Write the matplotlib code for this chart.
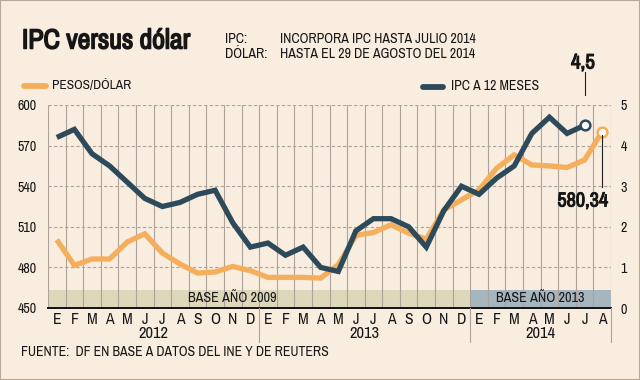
import matplotlib
matplotlib.use("Agg")
import matplotlib.pyplot as plt
import matplotlib.transforms as mtransforms
import matplotlib.patheffects as pe
from matplotlib.lines import Line2D
from matplotlib.patches import Rectangle
from matplotlib import font_manager

names = {f.name for f in font_manager.fontManager.ttflist}
FONT = "Archivo Narrow" if "Archivo Narrow" in names else "DejaVu Sans"
plt.rcParams['font.family'] = [FONT, 'DejaVu Sans']

# ---- data ----
months = ["E", "F", "M", "A", "M", "J", "J", "A", "S", "O", "N", "D"] * 2 + ["E", "F", "M", "A", "M", "J", "J", "A"]
years = ["2012", "2013", "2014"]
pesos_dolar = [500.4, 481.5, 486.2, 486.2, 498.7, 504.8, 490.6, 482.5, 475.8, 476.6, 480.7, 477.6,
               472.6, 472.6, 472.6, 472.1, 482.0, 503.6, 505.8, 511.5, 505.3, 500.9, 522.5, 529.9,
               537.3, 553.3, 563.1, 555.7, 555.0, 553.8, 559.4, 580.34]
ipc_12m = [4.2, 4.4, 3.8, 3.5, 3.1, 2.7, 2.5, 2.6, 2.8, 2.9, 2.1, 1.5,
           1.6, 1.3, 1.5, 1.0, 0.9, 1.9, 2.2, 2.2, 2.0, 1.5, 2.4, 3.0,
           2.8, 3.2, 3.5, 4.3, 4.7, 4.3, 4.5]
left_ticks = [450, 480, 510, 540, 570, 600]
right_ticks = [0, 1, 2, 3, 4, 5]
bands = [("BASE AÑO 2009", 0, 24, 10.45), ("BASE AÑO 2013", 24, 32, 28)]

BG = "#F8EDDE"
ORANGE = "#F5AE5B"
DARK = "#2D4A5A"
GRID = "#ADA39A"
TXT = "#161616"

W, H = 640, 380
fig = plt.figure(figsize=(W / 100, H / 100), dpi=100, facecolor=BG)
renderer = fig.canvas.get_renderer()

def fx(px):
    return px / W

def fy(py):
    return 1 - py / H

def fit(t, width_px):
    bb = t.get_window_extent(renderer)
    if bb.width > 0:
        t.set_fontsize(t.get_fontsize() * width_px / bb.width)
    return t

def size_for(s, width_px, weight="normal"):
    t = fig.text(0, 0, s, fontsize=10, fontweight=weight)
    bb = t.get_window_extent(renderer)
    t.remove()
    return 10 * width_px / bb.width

def bold(t, w=0.9):
    t.set_path_effects([pe.withStroke(linewidth=w, foreground=t.get_color())])
    return t

L, R, T, B = 48, 611, 105, 308
ax = fig.add_axes([fx(L), fy(B), (R - L) / W, (B - T) / H])
ax.set_facecolor("none")
ax.set_xlim(0, len(months))
ax.set_ylim(left_ticks[0], left_ticks[-1])
ax2 = ax.twinx()
ax2.set_ylim(right_ticks[0], right_ticks[-1])
ax2.set_xlim(0, len(months))

for a in (ax, ax2):
    for s in a.spines.values():
        s.set_visible(False)
ax.spines['bottom'].set_visible(True)
ax.spines['bottom'].set_color("#111111")
ax.spines['bottom'].set_linewidth(1.4)
ax.spines['bottom'].set_zorder(6)

# bands
band_colors = ["#DDD8BB", "#A5B6BF"]
band_top = 463.5
band_fs = size_for("BASE AÑO 2009", 88)
for (label, x0, x1, xc), c in zip(bands, band_colors):
    ax.add_patch(Rectangle((x0, left_ticks[0]), x1 - x0, band_top - left_ticks[0],
                           facecolor=c, edgecolor="none", zorder=0))
    ax.text(xc, (left_ticks[0] + band_top) / 2 + 0.3, label, ha="center", va="center",
            fontsize=band_fs, color=TXT, zorder=3)

# grid
for i in range(len(months) + 1):
    ax.plot([i, i], [left_ticks[0], left_ticks[-1]], color=GRID, lw=0.8, zorder=1)
for v in left_ticks[1:]:
    ax.plot([0, len(months)], [v, v], color=GRID, lw=0.8, ls=(0, (3, 2)), zorder=1)

xs = [i + 0.5 for i in range(len(months))]
ax.plot(xs, pesos_dolar, color=ORANGE, lw=3.8, solid_joinstyle="miter", solid_capstyle="butt", zorder=4)
ax.plot(xs[-1], pesos_dolar[-1], "o", ms=7, mfc="white", mec=ORANGE, mew=1.8, zorder=7)
ax2.plot(xs[:len(ipc_12m)], ipc_12m, color=DARK, lw=3.8, solid_joinstyle="miter", solid_capstyle="butt", zorder=4)
ax2.plot(xs[len(ipc_12m) - 1], ipc_12m[-1], "o", ms=7, mfc="white", mec=DARK, mew=1.8, zorder=7)

# ticks
tick_fs = size_for("600", 19)
yr_fs = size_for("2012", 30)
ax.set_xticks(xs)
ax.set_xticklabels(months, fontsize=yr_fs * 0.95, color=TXT)
ax.tick_params(axis="x", length=0, pad=3)
ax.set_yticks(left_ticks)
ax.set_yticklabels([str(v) for v in left_ticks], fontsize=tick_fs, color=TXT)
ax.tick_params(axis="y", length=0, pad=8)
ax2.set_yticks(right_ticks)
ax2.set_yticklabels([str(v) for v in right_ticks], fontsize=tick_fs, color=TXT)
ax2.tick_params(axis="y", length=0, pad=7)

bt = mtransforms.blended_transform_factory(ax.transData, fig.transFigure)
for k, yr in enumerate(years):
    x0 = 12 * k
    x1 = min(12 * (k + 1), len(months))
    fig.text((x0 + x1) / 2, fy(334), yr, transform=bt, ha="center", va="center", fontsize=yr_fs, color=TXT)
for xsep in (12, 24, len(months)):
    fig.add_artist(Line2D([xsep, xsep], [fy(B), fy(342)], transform=bt, color=GRID, lw=0.8))

# annotations
xl = xs[len(ipc_12m) - 1]
fig.add_artist(Line2D([xl, xl], [fy(72), fy(95)], transform=bt, color="#222222", lw=0.8))
bold(fit(fig.text(fx(583), fy(63), "4,5", ha="center", va="center", fontsize=12, fontweight="bold", color=TXT), 24), 0.8)
xo = xs[-1]
fig.add_artist(Line2D([xo, xo], [fy(135), fy(187)], transform=bt, color="#222222", lw=0.8))
bold(fit(fig.text(fx(582.5), fy(201), "580,34", ha="center", va="center", fontsize=12, fontweight="bold", color=TXT), 51), 0.7)

# titles
bold(fit(fig.text(fx(22), fy(41), "IPC versus dólar", ha="left", va="center", fontsize=18, fontweight="bold", color=TXT), 168), 1.1)
sub_fs = size_for("INCORPORA IPC HASTA JULIO 2014", 196)
fig.text(fx(225), fy(39), "IPC:", ha="left", va="center", fontsize=sub_fs, color=TXT)
fig.text(fx(280), fy(39), "INCORPORA IPC HASTA JULIO 2014", ha="left", va="center", fontsize=sub_fs, color=TXT)
fig.text(fx(225), fy(54), "DÓLAR:", ha="left", va="center", fontsize=sub_fs, color=TXT)
fig.text(fx(280), fy(54), "HASTA EL 29 DE AGOSTO DEL 2014", ha="left", va="center", fontsize=sub_fs, color=TXT)

# legend
fig.add_artist(Line2D([fx(24), fx(46)], [fy(86), fy(86)], color=ORANGE, lw=4.2, solid_capstyle="round"))
fit(fig.text(fx(52), fy(85), "PESOS/DÓLAR", ha="left", va="center", fontsize=10, color=TXT), 79)
fig.add_artist(Line2D([fx(423), fx(443)], [fy(87), fy(87)], color=DARK, lw=4.2, solid_capstyle="round"))
fit(fig.text(fx(451), fy(86), "IPC A 12 MESES", ha="left", va="center", fontsize=10, color=TXT), 88)

fit(fig.text(fx(21), fy(352), "FUENTE:  DF EN BASE A DATOS DEL INE Y DE REUTERS", ha="left", va="center",
             fontsize=10, color=TXT), 308)

fig.add_artist(Rectangle((0, 0), 1, 1, transform=fig.transFigure, fill=False, edgecolor="#B9A898", lw=1.5))

fig.savefig("out.png", dpi=100, facecolor=BG)
